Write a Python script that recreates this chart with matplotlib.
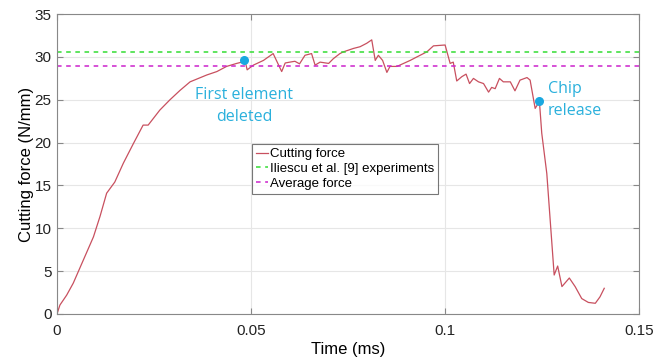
import matplotlib
matplotlib.use("Agg")
import matplotlib.pyplot as plt

plt.rcParams["font.family"] = ["Liberation Sans", "DejaVu Sans"]

# simulated cutting force vs time
time_ms = [
    0.0, 0.00077, 0.0016, 0.0025, 0.0042, 0.0068, 0.0094, 0.0111, 0.0128, 0.0149,
    0.0171, 0.0197, 0.0222, 0.0235, 0.0265, 0.0291, 0.0317, 0.0343, 0.0386, 0.0412,
    0.0437, 0.0463, 0.0485, 0.0490, 0.0506, 0.0532, 0.0557, 0.0579, 0.0588, 0.0600,
    0.0613, 0.0625, 0.0639, 0.0656, 0.0665, 0.0678, 0.0700, 0.0712, 0.0729, 0.0738,
    0.0751, 0.0764, 0.0781, 0.0798, 0.0811, 0.0820, 0.0828, 0.0839, 0.0850, 0.0858,
    0.0876, 0.0893, 0.0910, 0.0927, 0.0953, 0.0970, 0.1000, 0.1013, 0.1021, 0.1030,
    0.1043, 0.1054, 0.1063, 0.1073, 0.1086, 0.1099, 0.1112, 0.1120, 0.1129, 0.1140,
    0.1150, 0.1168, 0.1180, 0.1193, 0.1211, 0.1219, 0.1232, 0.1243, 0.1249, 0.1262,
    0.1281, 0.1290, 0.1301, 0.1320, 0.1335, 0.1352, 0.1369, 0.1387, 0.1399, 0.1410,
]
force = [
    0.0, 1.05, 1.6, 2.2, 3.6, 6.3, 9.0, 11.4, 14.1, 15.4,
    17.6, 19.9, 22.05, 22.05, 23.8, 25.0, 26.1, 27.1, 27.9, 28.3,
    28.9, 29.25, 29.5, 28.5, 29.05, 29.6, 30.4, 28.3, 29.3, 29.4,
    29.5, 29.2, 30.2, 30.4, 29.05, 29.4, 29.25, 29.8, 30.4, 30.6,
    30.8, 31.0, 31.2, 31.6, 32.0, 29.6, 30.2, 29.6, 28.2, 28.9,
    28.9, 29.25, 29.6, 30.0, 30.6, 31.3, 31.4, 29.25, 29.4, 27.2,
    27.7, 28.0, 26.9, 27.5, 27.1, 26.9, 25.9, 26.45, 26.3, 27.5,
    27.1, 27.1, 26.05, 27.3, 27.6, 27.3, 24.0, 24.8, 21.1, 16.4,
    4.55, 5.6, 3.2, 4.2, 3.2, 1.8, 1.35, 1.25, 2.0, 3.0,
]
experiment_force = 30.6
average_force = 29.0
marker_t = [0.0482, 0.1243]
marker_f = [29.6, 24.9]

fig = plt.figure(figsize=(6.7, 3.63), dpi=100)
ax = fig.add_axes([0.085, 0.135, 0.869, 0.826])

ax.plot(time_ms, force, color="#c8505f", linewidth=0.9, label="Cutting force")
ax.axhline(experiment_force, color="#33dd33", linestyle=(0, (3, 3)), linewidth=1.1,
           label="Iliescu et al. [9] experiments")
ax.axhline(average_force, color="#cc22cc", linestyle=(0, (3, 3)), linewidth=1.1,
           label="Average force")
ax.scatter(marker_t, marker_f, s=30, color="#1aa8e0", zorder=5)

cyan = "#2ab0dc"
ax.text(marker_t[0], 24.3, "First element\ndeleted", color=cyan, fontsize=11.5,
        family=["Open Sans", "DejaVu Sans"], ha="center", va="center", linespacing=1.45)
ax.text(0.1264, 25.0, "Chip\nrelease", color=cyan, fontsize=11.5,
        family=["Open Sans", "DejaVu Sans"], ha="left", va="center", linespacing=1.45)

ax.set_xlim(0, 0.15)
ax.set_ylim(0, 35)
ax.set_xticks([0, 0.05, 0.1, 0.15])
ax.set_xticklabels(["0", "0.05", "0.1", "0.15"])
ax.set_yticks(range(0, 36, 5))
ax.tick_params(direction="in", top=True, right=True, labelsize=11, length=4,
               color="#888888", labelcolor="#222222")
ax.tick_params(axis="x", pad=7)
ax.tick_params(axis="y", pad=4)
ax.grid(color="#e6e6e6", linewidth=0.8)
ax.set_axisbelow(True)
for s in ax.spines.values():
    s.set_color("#888888")
    s.set_linewidth(0.8)

ax.set_xlabel("Time (ms)", fontsize=12, labelpad=3)
ax.set_ylabel("Cutting force (N/mm)", fontsize=12, labelpad=0)

leg = ax.legend(loc="upper left", bbox_to_anchor=(0.335, 0.567), fontsize=9.5,
                frameon=True, fancybox=False, handlelength=0.9, handletextpad=0.15,
                borderpad=0.3, labelspacing=0.2, borderaxespad=0)
leg.get_frame().set_edgecolor("#555555")
leg.get_frame().set_linewidth(0.8)

fig.savefig("out.png", dpi=100)
